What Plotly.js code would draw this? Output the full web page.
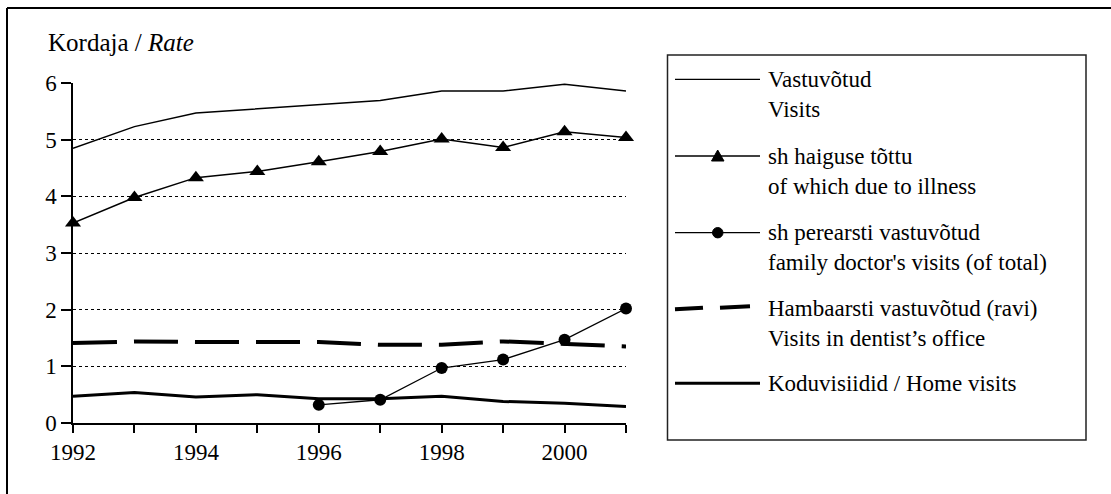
<!DOCTYPE html>
<html>
<head>
<meta charset="utf-8">
<script src="https://cdn.plot.ly/plotly-3.0.1.min.js"></script>
<style>
  html, body { margin: 0; padding: 0; background: #fff; font-family: 'Liberation Serif', serif; }
  #chart svg text { font-family: 'Liberation Serif', serif !important; }
  #fontwarm { position: absolute; left: 0; top: 600px; font-family: 'Liberation Serif', serif; font-size: 23px; }
</style>
</head>
<body>
<div id="chart"></div>
<div id="fontwarm">Kordaja / <i>Rate</i> 1992 Vastuvõtud</div>
<script>
// ---- data ----
const years = [1992, 1993, 1994, 1995, 1996, 1997, 1998, 1999, 2000, 2001];
const visits = [4.85, 5.23, 5.47, 5.54, 5.61, 5.69, 5.86, 5.86, 5.98, 5.86];
const illness = [3.53, 3.98, 4.33, 4.44, 4.61, 4.79, 5.01, 4.86, 5.14, 5.04];
const familyYears = [1996, 1997, 1998, 1999, 2000, 2001];
const familyDoctor = [0.32, 0.41, 0.97, 1.12, 1.47, 2.02];
const dentist = [1.41, 1.44, 1.43, 1.43, 1.43, 1.38, 1.38, 1.44, 1.39, 1.35];
const homeVisits = [0.47, 0.54, 0.46, 0.50, 0.43, 0.43, 0.47, 0.38, 0.35, 0.29];
const tickLabels = ['1992', '', '1994', '', '1996', '', '1998', '', '2000', ''];
const yTitle = 'Kordaja / <i>Rate</i>';
const legendLines = [
  ['Vastuvõtud', 'Visits'],
  ['sh haiguse tõttu', 'of which due to illness'],
  ['sh perearsti vastuvõtud', "family doctor's visits (of total)"],
  ['Hambaarsti vastuvõtud (ravi)', 'Visits in dentist’s office'],
  ['Koduvisiidid / Home visits']
];

// ---- layout geometry ----
const W = 1111, H = 494;
const M = {l: 73, r: 485, t: 83, b: 71};
const PW = W - M.l - M.r, PH = H - M.t - M.b;
const px = x => (x - M.l) / PW;
const py = y => (H - M.b - y) / PH;
const SERIF = 'Liberation Serif';
const fs = 23;

const traces = [
  {x: years, y: dentist, mode: 'lines', name: 'dentist',
   line: {color: '#000', width: 4, dash: '44px,17px'}},
  {x: years, y: homeVisits, mode: 'lines', name: 'home',
   line: {color: '#000', width: 3}},
  {x: years, y: visits, mode: 'lines', name: 'visits',
   line: {color: '#000', width: 1.5}},
  {x: years, y: illness, mode: 'lines+markers', name: 'illness', cliponaxis: false,
   line: {color: '#000', width: 1.5},
   marker: {symbol: 'triangle-up', size: 14, color: '#000'}},
  {x: familyYears, y: familyDoctor, mode: 'lines+markers', name: 'family', cliponaxis: false,
   line: {color: '#000', width: 1.3},
   marker: {symbol: 'circle', size: 12, color: '#000'}}
];

const shapes = [];
const annotations = [];
shapes.push({type: 'line', xref: 'paper', yref: 'paper', x0: px(7), x1: px(1111), y0: py(8), y1: py(8), line: {color: '#000', width: 2}});
shapes.push({type: 'line', xref: 'paper', yref: 'paper', x0: px(7), x1: px(7), y0: py(8), y1: py(494), line: {color: '#000', width: 2}});
shapes.push({type: 'rect', xref: 'paper', yref: 'paper', x0: px(667.5), x1: px(1086), y0: py(55), y1: py(440), line: {color: '#222', width: 1.5}, fillcolor: 'rgba(0,0,0,0)'});

const rowY = [79.3, 156, 232.7, 308, 383.3];
const symX0 = 675, symX1 = 760, textX = 766;
shapes.push({type: 'line', xref: 'paper', yref: 'paper', x0: px(symX0), x1: px(symX1), y0: py(rowY[0]), y1: py(rowY[0]), line: {color: '#000', width: 1.3}});
shapes.push({type: 'line', xref: 'paper', yref: 'paper', x0: px(symX0), x1: px(symX1), y0: py(rowY[1]), y1: py(rowY[1]), line: {color: '#000', width: 1.3}});
shapes.push({type: 'path', xref: 'paper', yref: 'paper',
  path: `M ${px(711.5)} ${py(rowY[1] + 5)} L ${px(724)} ${py(rowY[1] + 5)} L ${px(717.7)} ${py(rowY[1] - 6)} Z`,
  fillcolor: '#000', line: {color: '#000', width: 1}});
shapes.push({type: 'line', xref: 'paper', yref: 'paper', x0: px(symX0), x1: px(symX1), y0: py(rowY[2]), y1: py(rowY[2]), line: {color: '#000', width: 1.3}});
shapes.push({type: 'circle', xref: 'paper', yref: 'paper', x0: px(712.5), x1: px(723), y0: py(rowY[2] - 5.2), y1: py(rowY[2] + 5.2), fillcolor: '#000', line: {color: '#000', width: 1}});
shapes.push({type: 'line', xref: 'paper', yref: 'paper', x0: px(675), x1: px(703), y0: py(rowY[3] + 1.2), y1: py(rowY[3] - 0.3), line: {color: '#000', width: 4}});
shapes.push({type: 'line', xref: 'paper', yref: 'paper', x0: px(720), x1: px(750), y0: py(rowY[3] - 0.3), y1: py(rowY[3] - 1.8), line: {color: '#000', width: 4}});
shapes.push({type: 'line', xref: 'paper', yref: 'paper', x0: px(symX0), x1: px(symX1), y0: py(rowY[4]), y1: py(rowY[4]), line: {color: '#000', width: 3}});

legendLines.forEach((lines, i) => {
  lines.forEach((t, j) => {
    annotations.push({xref: 'paper', yref: 'paper', x: px(textX), y: py(rowY[i] + j * 30),
      xanchor: 'left', yanchor: 'middle', showarrow: false, text: t,
      font: {family: SERIF, size: fs, color: '#000'}});
  });
});
annotations.push({xref: 'paper', yref: 'paper', x: px(46), y: py(43), xanchor: 'left', yanchor: 'middle',
  showarrow: false, text: yTitle, font: {family: SERIF, size: 25, color: '#000'}});

const layout = {
  width: W, height: H,
  margin: M,
  paper_bgcolor: '#fff', plot_bgcolor: '#fff',
  showlegend: false,
  font: {family: SERIF, size: fs, color: '#000'},
  xaxis: {
    range: [1992, 2001], tickmode: 'array', tickvals: years, ticktext: tickLabels,
    ticks: 'outside', ticklen: 8, tickwidth: 1.5, tickcolor: '#000',
    showline: true, linecolor: '#000', linewidth: 1.5, showgrid: false, zeroline: false,
    tickfont: {family: SERIF, size: fs, color: '#000'}
  },
  yaxis: {
    range: [0, 6], tickmode: 'linear', tick0: 0, dtick: 1,
    ticks: 'outside', ticklen: 10, tickwidth: 1.5, tickcolor: '#000',
    showline: true, linecolor: '#000', linewidth: 1.5, zeroline: false,
    showgrid: true, gridcolor: '#000', gridwidth: 1, griddash: 'dot',
    tickfont: {family: SERIF, size: fs, color: '#000'}
  },
  shapes: shapes,
  annotations: annotations
};

Plotly.newPlot('chart', traces, layout, {displayModeBar: false});
</script>
</body>
</html>
